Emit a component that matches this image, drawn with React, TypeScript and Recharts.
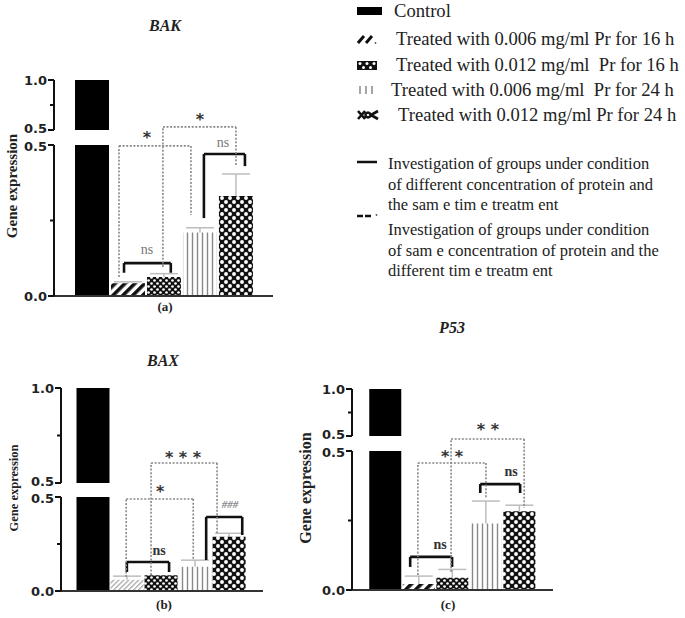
import React from 'react';
import { BarChart, Bar, XAxis, YAxis, Cell, ErrorBar, ReferenceLine, ReferenceDot } from 'recharts';

// ---------- data ----------
const groups = [
  'Control',
  'Treated with 0.006 mg/ml Pr for 16 h',
  'Treated with 0.012 mg/ml  Pr for 16 h',
  'Treated with 0.006 mg/ml  Pr for 24 h',
  'Treated with 0.012 mg/ml Pr for 24 h',
];

const bakValues = [1.0, 0.042, 0.063, 0.21, 0.331];
const bakErrors = [0, 0.005, 0.011, 0.016, 0.073];
const baxValues = [1.0, 0.06, 0.084, 0.129, 0.289];
const baxErrors = [0, 0.019, 0, 0.035, 0.018];
const p53Values = [1.0, 0.022, 0.044, 0.239, 0.283];
const p53Errors = [0, 0.028, 0.03, 0.081, 0.022];

const upperTicks = [0.5, 0.75, 1.0];
const lowerTicks = [0, 0.25, 0.5];
const majorTicks = [0, 0.5, 1.0];

type Bracket = { kind: 'solid' | 'dotted'; x1: number; x2: number; top: number; leftEnd: number; rightEnd: number };
type Mark = { x: number; y: number; text: string; kind: 'star' | 'ns' | 'nsGray' | 'hash' };

const bakBrackets: Bracket[] = [
  { kind: 'solid', x1: 0.89, x2: 2.19, top: 0.109, leftEnd: 0.077, rightEnd: 0.077 },
  { kind: 'solid', x1: 3.11, x2: 4.25, top: 0.47, leftEnd: 0.258, rightEnd: 0.43 },
  { kind: 'dotted', x1: 0.75, x2: 2.75, top: 0.497, leftEnd: 0.063, rightEnd: 0.268 },
  { kind: 'dotted', x1: 1.97, x2: 4.0, top: 0.56, leftEnd: 0.096, rightEnd: 0.434 },
];
const bakMarks: Mark[] = [
  { x: 1.53, y: 0.152, text: 'ns', kind: 'nsGray' },
  { x: 3.64, y: 0.507, text: 'ns', kind: 'nsGray' },
  { x: 1.53, y: 0.54, text: '*', kind: 'star' },
  { x: 3.0, y: 0.6, text: '*', kind: 'star' },
];

const baxBrackets: Bracket[] = [
  { kind: 'solid', x1: 1.01, x2: 2.25, top: 0.154, leftEnd: 0.101, rightEnd: 0.101 },
  { kind: 'solid', x1: 3.34, x2: 4.4, top: 0.394, leftEnd: 0.165, rightEnd: 0.298 },
  { kind: 'dotted', x1: 0.99, x2: 2.96, top: 0.489, leftEnd: 0.074, rightEnd: 0.165 },
  { kind: 'dotted', x1: 1.72, x2: 3.66, top: 0.681, leftEnd: 0.085, rightEnd: 0.3 },
];
const baxMarks: Mark[] = [
  { x: 1.96, y: 0.213, text: 'ns', kind: 'ns' },
  { x: 4.04, y: 0.457, text: '###', kind: 'hash' },
  { x: 1.99, y: 0.553, text: '*', kind: 'star' },
  { x: 2.66, y: 0.734, text: '* * *', kind: 'star' },
];

const p53Brackets: Bracket[] = [
  { kind: 'solid', x1: 0.75, x2: 2.0, top: 0.119, leftEnd: 0.083, rightEnd: 0.083 },
  { kind: 'solid', x1: 2.84, x2: 4.03, top: 0.381, leftEnd: 0.349, rightEnd: 0.349 },
  { kind: 'dotted', x1: 0.98, x2: 3.01, top: 0.457, leftEnd: 0.054, rightEnd: 0.331 },
  { kind: 'dotted', x1: 1.97, x2: 4.15, top: 0.543, leftEnd: 0.065, rightEnd: 0.295 },
];
const p53Marks: Mark[] = [
  { x: 1.64, y: 0.162, text: 'ns', kind: 'ns' },
  { x: 3.76, y: 0.424, text: 'ns', kind: 'ns' },
  { x: 2.0, y: 0.496, text: '* *', kind: 'star' },
  { x: 3.07, y: 0.594, text: '* *', kind: 'star' },
];

const lineLegend1 = ['Investigation of groups under condition', 'of different concentration of protein and', 'the sam e tim e treatm ent'];
const lineLegend2 = ['Investigation of groups under condition', 'of sam e concentration of protein and the', 'different tim e treatm ent'];

// ---------- helpers ----------
const SERIF = '"Liberation Serif", "Times New Roman", serif';
const SANS = '"DejaVu Sans", "Liberation Sans", Arial, sans-serif';

const makeTick = (section: 'upper' | 'lower') => (props: any) => {
  const { x, y, payload } = props;
  const v = payload.value;
  const major = majorTicks.some((m) => Math.abs(m - v) < 1e-6);
  const len = major ? 6 : 4;
  // nudge the two "0.5" labels at the axis break apart slightly
  const nudge = Math.abs(v - 0.5) < 1e-6 ? (section === 'upper' ? -1.5 : 1.5) : 0;
  return (
    <g>
      <line x1={x - len} x2={x} y1={y} y2={y} stroke="#111" strokeWidth={2} />
      {major && (
        <text x={x - len - 1} y={y + nudge} dy="0.36em" textAnchor="end" fontFamily={SANS} fontWeight={700} fontSize={13} fill="#222">
          {Number(v).toFixed(1)}
        </text>
      )}
    </g>
  );
};
const UpperTick = makeTick('upper');
const LowerTick = makeTick('lower');

const Patterns = ({ id, thinHatch }: { id: string; thinHatch?: boolean }) => (
  <defs>
    {thinHatch ? (
      <pattern id={`${id}-hatch`} patternUnits="userSpaceOnUse" width={3.5} height={3.5} patternTransform="rotate(45)">
        <rect width={3.5} height={3.5} fill="#fff" />
        <line x1={0.6} y1={0} x2={0.6} y2={3.5} stroke="#999" strokeWidth={1.1} />
      </pattern>
    ) : (
      <pattern id={`${id}-hatch`} patternUnits="userSpaceOnUse" width={7} height={7} patternTransform="rotate(45)">
        <rect width={7} height={7} fill="#fff" />
        <line x1={1.8} y1={0} x2={1.8} y2={7} stroke="#111" strokeWidth={3.6} />
      </pattern>
    )}
    <pattern id={`${id}-dots`} patternUnits="userSpaceOnUse" width={6} height={6}>
      <rect width={6} height={6} fill="#111" />
      <circle cx={1.5} cy={1.5} r={1.35} fill="#fff" />
      <circle cx={4.5} cy={4.5} r={1.35} fill="#fff" />
    </pattern>
    <pattern id={`${id}-vlines`} patternUnits="userSpaceOnUse" width={5} height={5}>
      <rect width={5} height={5} fill="#fff" />
      <line x1={2.5} y1={0} x2={2.5} y2={5} stroke="#888" strokeWidth={1.4} />
    </pattern>
    <pattern id={`${id}-big`} patternUnits="userSpaceOnUse" width={8} height={8}>
      <rect width={8} height={8} fill="#111" />
      <circle cx={2} cy={2} r={1.95} fill="#fff" />
      <circle cx={6} cy={6} r={1.95} fill="#fff" />
    </pattern>
  </defs>
);

const markStyle = (kind: Mark['kind']) => {
  switch (kind) {
    case 'star':
      return { fontFamily: SANS, fontWeight: 'bold' as const, fontSize: 16, fill: '#333', dy: '0.62em', fontStyle: 'normal' };
    case 'ns':
      return { fontFamily: SERIF, fontWeight: 'bold' as const, fontSize: 14, fill: '#333', dy: '0.3em', fontStyle: 'normal' };
    case 'nsGray':
      return { fontFamily: SERIF, fontWeight: 'normal' as const, fontSize: 14, fill: '#777', dy: '0.3em', fontStyle: 'normal' };
    case 'hash':
    default:
      return { fontFamily: SERIF, fontWeight: 'bold' as const, fontSize: 11, fill: '#888', dy: '0.3em', fontStyle: 'italic' };
  }
};

type Geom = {
  left: number;
  axisX: number;
  plotRight: number;
  upperTop: number;
  upperBottom: number;
  lowerTop: number;
  lowerBottom: number;
  xDomain: [number, number];
  barSize: number;
};

function Panel({ id, values, errors, brackets, marks, geom, thinHatch }: {
  id: string; values: number[]; errors: number[]; brackets: Bracket[]; marks: Mark[]; geom: Geom; thinHatch?: boolean;
}) {
  const rows = values.map((v, i) => ({
    i,
    name: groups[i],
    value: v,
    // lower whisker reaches down to the base so it stays hidden behind the bar drawn above it
    err: errors[i] > 0 ? [v, errors[i]] : undefined,
  }));
  const fills = ['#000', `url(#${id}-hatch)`, `url(#${id}-dots)`, `url(#${id}-vlines)`, `url(#${id}-big)`];
  const upperFills = fills.map((f) => f.replace(`#${id}-`, `#${id}u-`));
  const yAxisW = geom.axisX - geom.left;
  const width = geom.plotRight - geom.left + 10;
  const upperH = geom.upperBottom + 10;
  const lowerH = geom.lowerBottom + 12;

  const xAxisCommon = {
    type: 'number' as const,
    dataKey: 'i',
    domain: geom.xDomain,
    allowDataOverflow: true,
    ticks: [] as number[],
    tick: false,
    tickLine: false,
  };
  const lowerMargin = { top: geom.lowerTop, right: 10, bottom: 10, left: 0 };

  return (
    <>
      {/* upper section of the broken axis */}
      <div style={{ position: 'absolute', left: geom.left, top: 0 }}>
        <BarChart width={width} height={upperH} data={rows} margin={{ top: geom.upperTop, right: 10, bottom: 10, left: 0 }}>
          <Patterns id={`${id}u`} thinHatch={thinHatch} />
          <XAxis {...xAxisCommon} hide />
          <YAxis
            type="number"
            domain={[0.5, 1]}
            ticks={upperTicks}
            allowDataOverflow
            width={yAxisW}
            tickSize={0}
            tickMargin={0}
            tickLine={false}
            interval={0}
            axisLine={{ stroke: '#111', strokeWidth: 2 }}
            tick={<UpperTick />}
          />
          <Bar dataKey="value" barSize={geom.barSize} isAnimationActive={false}>
            {rows.map((r, i) => (
              <Cell key={r.name} fill={upperFills[i]} />
            ))}
          </Bar>
        </BarChart>
      </div>
      {/* error bars layer (under the bars) */}
      <div style={{ position: 'absolute', left: geom.left, top: 0 }}>
        <BarChart width={width} height={lowerH} data={rows} margin={lowerMargin}>
          <XAxis {...xAxisCommon} height={2} axisLine={false} />
          <YAxis type="number" domain={[0, 0.5]} ticks={lowerTicks} allowDataOverflow width={yAxisW} tick={false} tickLine={false} axisLine={false} />
          <Bar dataKey="value" barSize={geom.barSize} fill="transparent" isAnimationActive={false}>
            <ErrorBar dataKey="err" width={14} stroke="#bdbdbd" strokeWidth={1.5} direction="y" />
          </Bar>
        </BarChart>
      </div>
      {/* lower section with bars and annotations */}
      <div style={{ position: 'absolute', left: geom.left, top: 0 }}>
        <BarChart width={width} height={lowerH} data={rows} margin={lowerMargin}>
          <Patterns id={id} thinHatch={thinHatch} />
          <XAxis {...xAxisCommon} height={2} axisLine={{ stroke: '#333', strokeWidth: 2 }} />
          <YAxis
            type="number"
            domain={[0, 0.5]}
            ticks={lowerTicks}
            allowDataOverflow
            width={yAxisW}
            tickSize={0}
            tickMargin={0}
            tickLine={false}
            interval={0}
            axisLine={{ stroke: '#111', strokeWidth: 2 }}
            tick={<LowerTick />}
          />
          <Bar dataKey="value" barSize={geom.barSize} isAnimationActive={false}>
            {rows.map((r, i) => (
              <Cell key={r.name} fill={fills[i]} />
            ))}
          </Bar>
          {brackets.flatMap((b, k) => {
            const st = b.kind === 'solid'
              ? { stroke: '#111', strokeWidth: 2.6 }
              : { stroke: '#888', strokeWidth: 1.6, strokeDasharray: '2 1.6' };
            return [
              <ReferenceLine key={`l${k}`} ifOverflow="visible" segment={[{ x: b.x1, y: b.leftEnd }, { x: b.x1, y: b.top }]} {...st} />,
              <ReferenceLine key={`t${k}`} ifOverflow="visible" segment={[{ x: b.x1, y: b.top }, { x: b.x2, y: b.top }]} {...st} />,
              <ReferenceLine key={`r${k}`} ifOverflow="visible" segment={[{ x: b.x2, y: b.top }, { x: b.x2, y: b.rightEnd }]} {...st} />,
            ];
          })}
          {marks.map((m, k) => {
            const s = markStyle(m.kind);
            return (
              <ReferenceDot
                key={`m${k}`}
                x={m.x}
                y={m.y}
                r={0}
                ifOverflow="visible"
                shape={(p: any) => (
                  <text x={p.cx} y={p.cy} dy={s.dy} textAnchor="middle" fontFamily={s.fontFamily} fontWeight={s.fontWeight}
                    fontStyle={s.fontStyle} fontSize={s.fontSize} fill={s.fill}>
                    {m.text}
                  </text>
                )}
              />
            );
          })}
        </BarChart>
      </div>
    </>
  );
}

// ---------- legend icons ----------
const Icon = ({ k }: { k: number }) => {
  const common = { width: 26, height: 14, style: { position: 'absolute' as const } };
  switch (k) {
    case 0:
      return <svg {...common}><rect x={0} y={3} width={25} height={8} fill="#000" /></svg>;
    case 1:
      return (
        <svg {...common}>
          <line x1={1} y1={11} x2={7} y2={4} stroke="#111" strokeWidth={3} />
          <line x1={9} y1={11} x2={15} y2={4} stroke="#111" strokeWidth={3} />
          <circle cx={18.5} cy={11} r={0.9} fill="#555" />
        </svg>
      );
    case 2:
      return (
        <svg {...common}>
          <rect x={0} y={3} width={20} height={9} fill="#111" />
          <circle cx={3} cy={5.5} r={1.5} fill="#fff" />
          <circle cx={10} cy={5.5} r={1.5} fill="#fff" />
          <circle cx={17} cy={5.5} r={1.5} fill="#fff" />
          <circle cx={6.5} cy={9.5} r={1.5} fill="#fff" />
          <circle cx={13.5} cy={9.5} r={1.5} fill="#fff" />
        </svg>
      );
    case 3:
      return (
        <svg {...common}>
          <line x1={3} y1={3} x2={3} y2={11} stroke="#888" strokeWidth={1.5} />
          <line x1={9} y1={3} x2={9} y2={11} stroke="#888" strokeWidth={1.5} />
          <line x1={15} y1={3} x2={15} y2={11} stroke="#888" strokeWidth={1.5} />
        </svg>
      );
    default:
      return (
        <svg {...common}>
          <path d="M1 3 L8 11 M1 11 L8 3 M8 7 Q 11 2 14 7 Q 11 12 8 7 M14 7 L21 3 M14 7 L21 11" stroke="#111" strokeWidth={2.6} fill="none" />
        </svg>
      );
  }
};

const legendRowY = [11, 39, 65, 90, 115];
const legendTextX = [394, 396, 396, 391, 398];

export default function App() {
  const geomA: Geom = {
    left: 0, axisX: 54, plotRight: 273, upperTop: 80, upperBottom: 130, lowerTop: 145, lowerBottom: 296,
    xDomain: [-1.056, 5.03], barSize: 34,
  };
  const geomB: Geom = {
    left: 0, axisX: 61, plotRight: 263, upperTop: 388, upperBottom: 483, lowerTop: 497, lowerBottom: 591,
    xDomain: [-0.926, 5.01], barSize: 33,
  };
  const geomC: Geom = {
    left: 290, axisX: 352, plotRight: 553, upperTop: 389, upperBottom: 436, lowerTop: 451, lowerBottom: 590,
    xDomain: [-0.985, 5.01], barSize: 32,
  };

  return (
    <div style={{ position: 'absolute', left: 0, top: 0, width: 685, height: 618, background: '#fff', overflow: 'hidden' }}>
      <Panel id="pa" values={bakValues} errors={bakErrors} brackets={bakBrackets} marks={bakMarks} geom={geomA} />
      <Panel id="pb" values={baxValues} errors={baxErrors} brackets={baxBrackets} marks={baxMarks} geom={geomB} thinHatch />
      <Panel id="pc" values={p53Values} errors={p53Errors} brackets={p53Brackets} marks={p53Marks} geom={geomC} />

      <svg width={685} height={618} style={{ position: 'absolute', left: 0, top: 0, pointerEvents: 'none' }}>
        <g fontFamily={SERIF} fontWeight="bold" fill="#222" textAnchor="middle">
          <text x={165} y={25} dy="0.35em" fontStyle="italic" fontSize={16}>BAK</text>
          <text x={163} y={360} dy="0.35em" fontStyle="italic" fontSize={16}>BAX</text>
          <text x={452} y={327} dy="0.35em" fontStyle="italic" fontSize={16}>P53</text>
          <text x={165} y={306} dy="0.35em" fontSize={13}>(a)</text>
          <text x={164} y={604} dy="0.35em" fontSize={13}>(b)</text>
          <text x={448} y={604} dy="0.35em" fontSize={13}>(c)</text>
          <text x={12} y={186} dy="0.35em" fontSize={15} transform="rotate(-90 12 186)">Gene expression</text>
          <text x={14} y={488} dy="0.35em" fontSize={12.5} transform="rotate(-90 14 488)">Gene expression</text>
          <text x={305} y={488} dy="0.35em" fontSize={16} transform="rotate(-90 305 488)">Gene expression</text>
        </g>
      </svg>

      {groups.map((g, k) => (
        <div key={g} style={{ position: 'absolute', left: 357, top: legendRowY[k] - 7, height: 14 }}>
          <Icon k={k} />
          <div style={{ position: 'absolute', left: legendTextX[k] - 357, top: -4, whiteSpace: 'pre', fontFamily: SERIF, fontSize: 18.6, lineHeight: '22px', color: '#222' }}>
            {g}
          </div>
        </div>
      ))}

      <svg width={22} height={10} style={{ position: 'absolute', left: 357, top: 157 }}>
        <line x1={0} y1={5} x2={20} y2={5} stroke="#111" strokeWidth={2.5} />
      </svg>
      <div style={{ position: 'absolute', left: 388, top: 154, fontFamily: SERIF, fontSize: 16.5, lineHeight: '20.5px', color: '#222', whiteSpace: 'pre' }}>
        {lineLegend1.map((t) => <div key={t}>{t}</div>)}
      </div>
      <svg width={22} height={10} style={{ position: 'absolute', left: 357, top: 211 }}>
        <line x1={0} y1={5} x2={16} y2={5} stroke="#111" strokeWidth={2.5} strokeDasharray="6 2" />
        <circle cx={19.5} cy={4} r={0.9} fill="#555" />
      </svg>
      <div style={{ position: 'absolute', left: 388, top: 220, fontFamily: SERIF, fontSize: 16.5, lineHeight: '20.5px', color: '#222', whiteSpace: 'pre' }}>
        {lineLegend2.map((t) => <div key={t}>{t}</div>)}
      </div>
    </div>
  );
}
